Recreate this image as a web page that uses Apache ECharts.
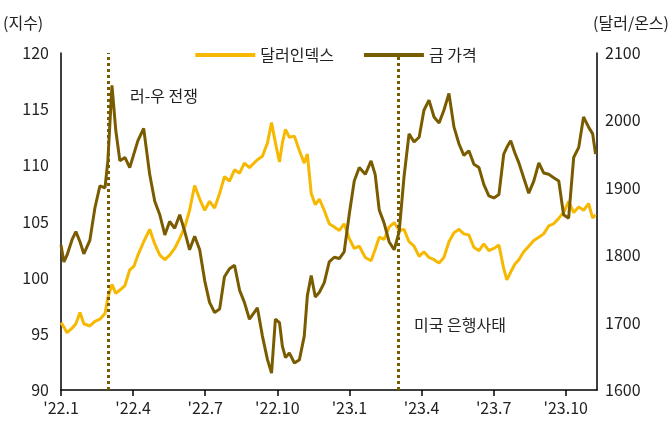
<!DOCTYPE html>
<html><head><meta charset="utf-8">
<script src="https://cdn.jsdelivr.net/npm/echarts@6/dist/echarts.min.js"></script>
<style>html,body{margin:0;padding:0;background:#fff}#c{width:672px;height:433px}</style>
</head><body><div id="c"></div>
<script>
// months since Jan 2022
const months = [0,.12,.25,.46,.62,.79,.95,1.20,1.41,1.62,1.83,1.95,2.12,2.28,2.45,2.66,2.86,3.03,3.20,3.44,3.69,3.90,4.11,4.32,4.52,4.73,4.94,5.15,5.35,5.56,5.77,5.98,6.18,6.39,6.60,6.80,7.01,7.22,7.43,7.63,7.84,8.17,8.38,8.59,8.76,8.92,9.09,9.21,9.34,9.50,9.71,9.92,10.12,10.25,10.41,10.58,10.75,10.95,11.16,11.37,11.58,11.78,11.99,12.20,12.41,12.66,12.90,13.07,13.24,13.44,13.65,13.86,14.07,14.27,14.48,14.69,14.90,15.10,15.31,15.52,15.73,15.93,16.14,16.35,16.56,16.76,16.97,17.18,17.39,17.59,17.80,18.01,18.22,18.42,18.55,18.71,18.88,19.05,19.25,19.46,19.67,19.88,20.08,20.29,20.50,20.71,20.91,21.12,21.33,21.54,21.74,21.95,22.12,22.24];
const dollarIndex = [96.0,95.6,95.1,95.5,95.9,96.9,95.9,95.7,96.1,96.3,96.8,98.2,99.4,98.6,98.9,99.3,100.7,101.0,102,103.2,104.3,103,102.0,101.6,102,102.6,103.5,104.5,106,108.2,107,106,106.8,106.2,107.5,109,108.6,109.6,109.3,110.2,109.8,110.5,110.8,112,113.8,112,110.3,112,113.2,112.5,112.6,111.3,110.2,111,107.5,106.5,107,106,104.8,104.5,104.2,104.8,103.5,102.6,102.8,101.8,101.5,102.5,103.6,103.4,104.5,104.9,104.2,104.3,103.2,102.8,101.9,102.3,101.8,101.6,101.3,101.8,103.2,104.0,104.3,103.9,103.8,102.7,102.4,103.0,102.4,102.6,102.9,100.8,99.8,100.5,101.2,101.6,102.3,102.8,103.3,103.6,103.9,104.6,104.8,105.3,105.8,106.8,105.8,106.3,106.0,106.6,105.3,105.6];
const goldPrice = [1815,1790,1800,1823,1835,1820,1802,1822,1870,1903,1900,1940,2052,1985,1940,1945,1930,1950,1970,1988,1920,1880,1860,1830,1850,1840,1860,1835,1808,1828,1808,1762,1730,1715,1720,1768,1780,1785,1748,1730,1705,1722,1680,1645,1625,1705,1700,1665,1648,1655,1640,1645,1680,1740,1770,1738,1745,1759,1790,1797,1795,1805,1860,1910,1930,1920,1940,1920,1867,1848,1820,1808,1835,1916,1980,1968,1975,2015,2030,2005,1996,2015,2040,1990,1965,1948,1955,1935,1930,1905,1888,1885,1890,1950,1960,1970,1952,1937,1915,1892,1910,1937,1922,1920,1915,1910,1860,1855,1945,1960,2005,1990,1980,1950];
const tickLabels = {0:"'22.1",3:"'22.4",6:"'22.7",9:"'22.10",12:"'23.1",15:"'23.4",18:"'23.7",21:"'23.10"};
const events = [{m:1.95,name:'러-우 전쟁'},{m:14.02,name:'미국 은행사태'}];

const chart = echarts.init(document.getElementById('c'));
const font = 'Noto Sans CJK KR';
const ts = {fontFamily:font,fontSize:16,color:'#222'};
chart.setOption({
  animation:false,
  textStyle:{fontFamily:font},
  grid:{left:61,right:74,top:53,bottom:43},
  legend:{top:42,left:'center',itemGap:30,itemWidth:60,itemHeight:4,textStyle:ts,
    data:[{name:'달러인덱스',icon:'rect'},{name:'금 가격',icon:'rect'}]},
  xAxis:{type:'value',min:0,max:22.3,interval:3,
    axisLine:{lineStyle:{color:'#000',width:1.5}},
    axisTick:{show:true,length:6,lineStyle:{color:'#000',width:1.5}},
    splitLine:{show:false},
    axisLabel:{...ts,margin:10,showMaxLabel:false,formatter:v=>tickLabels[v]||''}},
  yAxis:[
    {type:'value',min:90,max:120,interval:5,name:'(지수)',nameLocation:'end',nameGap:22,
     nameTextStyle:{...ts,align:'left',padding:[0,0,0,-58]},
     axisLine:{show:true,lineStyle:{color:'#000',width:1.5}},axisTick:{show:false},
     splitLine:{show:false},axisLabel:{...ts,margin:12}},
    {type:'value',min:1600,max:2100,interval:100,name:'(달러/온스)',nameLocation:'end',nameGap:22,
     nameTextStyle:{...ts,align:'right',padding:[0,-72,0,0]},
     axisLine:{show:true,lineStyle:{color:'#000',width:1.5}},axisTick:{show:false},
     splitLine:{show:false},axisLabel:{...ts,margin:8,formatter:v=>String(v)}}
  ],
  series:[
    {name:'달러인덱스',type:'line',yAxisIndex:0,showSymbol:false,color:'#F6B800',
     lineStyle:{width:3,color:'#F6B800'},data:months.map((m,i)=>[m,dollarIndex[i]]),z:2,
     markLine:{silent:true,symbol:'none',label:{show:false},
       lineStyle:{type:[3,3],width:3,color:'#7A5C00'},data:events.map(e=>({xAxis:e.m}))}},
    {name:'금 가격',type:'line',yAxisIndex:1,showSymbol:false,color:'#7A5C00',
     lineStyle:{width:3,color:'#7A5C00'},data:months.map((m,i)=>[m,goldPrice[i]]),z:3}
  ],
  graphic:[
    {type:'text',left:130,top:88,style:{text:events[0].name,font:'16px "Noto Sans CJK KR"',fill:'#222'}},
    {type:'text',left:414,top:317,style:{text:events[1].name,font:'16px "Noto Sans CJK KR"',fill:'#222'}}
  ]
});
</script></body></html>
